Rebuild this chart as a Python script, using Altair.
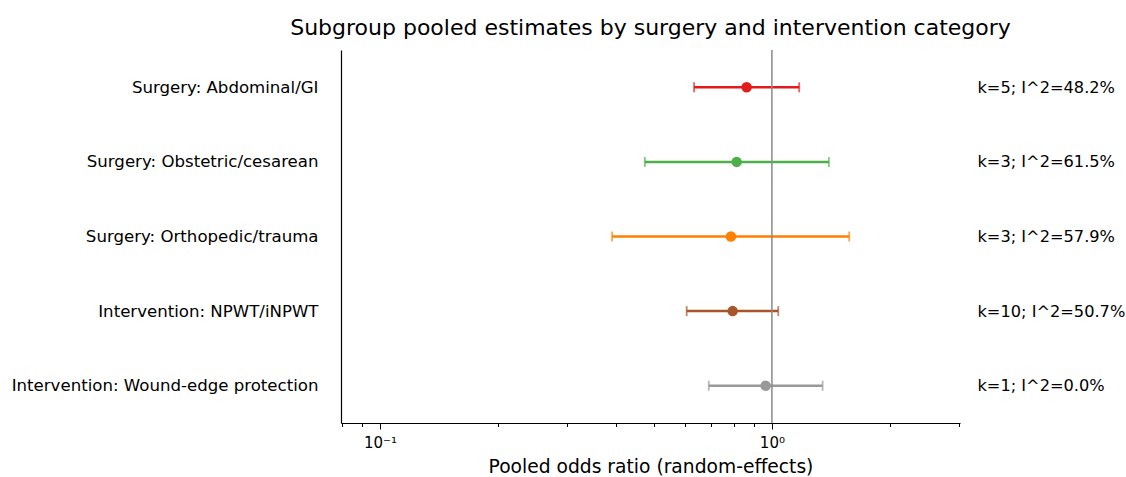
import altair as alt
import pandas as pd

labels = [
    "Surgery: Abdominal/GI",
    "Surgery: Obstetric/cesarean",
    "Surgery: Orthopedic/trauma",
    "Intervention: NPWT/iNPWT",
    "Intervention: Wound-edge protection",
]
estimates = [0.862, 0.813, 0.786, 0.794, 0.964]
lower = [0.633, 0.474, 0.391, 0.606, 0.690]
upper = [1.174, 1.398, 1.575, 1.038, 1.347]
k_values = [5, 3, 3, 10, 1]
i2_values = [48.2, 61.5, 57.9, 50.7, 0.0]
colors = ["#e41a1c", "#4daf4a", "#ff7f00", "#a65628", "#999999"]
reference = [1.0]
tick_values = [0.08, 0.09, 0.1, 0.2, 0.3, 0.4, 0.5, 0.6, 0.7, 0.8, 0.9, 1, 2, 3]

notes = [f"k={k}; I^2={i:.1f}%" for k, i in zip(k_values, i2_values)]
df = pd.DataFrame({
    "label": labels, "est": estimates, "lo": lower, "hi": upper,
    "note": notes, "color": colors,
})
ref_df = pd.DataFrame({"ref": reference})

FONT = "DejaVu Sans"
is_major = "abs(log(datum.value)/LN10 - round(log(datum.value)/LN10)) < 1e-6"

xscale = alt.Scale(type="log", domain=[0.0795, 3.02], nice=False)
xaxis = alt.Axis(
    values=tick_values,
    title="Pooled odds ratio (random-effects)",
    titleFontSize=18.7, titleFontWeight="normal", titleColor="black", titlePadding=7,
    labelExpr="datum.value == 0.1 ? '10⁻¹' : (datum.value == 1 ? '10⁰' : '')",
    labelFontSize=15, labelColor="black", labelPadding=6, labelFlush=False,
    tickSize={"condition": {"test": is_major, "value": 6}, "value": 3.5},
    tickColor="black", tickWidth=1, domainColor="black", domainWidth=1.2,
    grid=False, labelOverlap=False,
)
yscale = alt.Scale(type="point", padding=0.5)
yaxis = alt.Axis(
    title=None, ticks=False, labelFontSize=16.6, labelColor="black", labelPadding=23,
    labelLimit=400, domainColor="black", domainWidth=1.2, grid=False,
)
Y = alt.Y("label:N", sort=labels, scale=yscale, axis=yaxis)
col = alt.Color("color:N", scale=None)

base = alt.Chart(df)
bars = base.mark_rule(strokeWidth=2.5).encode(
    x=alt.X("lo:Q", scale=xscale, axis=xaxis), x2="hi:Q", y=Y, color=col)
caps_lo = base.mark_tick(size=10, thickness=1.8).encode(
    x=alt.X("lo:Q", scale=xscale, axis=xaxis), y=Y, color=col)
caps_hi = base.mark_tick(size=10, thickness=1.8).encode(
    x=alt.X("hi:Q", scale=xscale, axis=xaxis), y=Y, color=col)
points = base.mark_circle(size=110, opacity=1).encode(
    x=alt.X("est:Q", scale=xscale, axis=xaxis), y=Y, color=col)
ref_rule = alt.Chart(ref_df).mark_rule(color="#8a8a8a", strokeWidth=1.5).encode(
    x=alt.X("ref:Q", scale=xscale, axis=xaxis))

left = alt.layer(bars, caps_lo, caps_hi, ref_rule, points)

notes_layer = base.mark_point(opacity=0).encode(
    x=alt.X("est:Q", scale=xscale, axis=xaxis),
    y=alt.Y("note:N", sort=notes, scale=yscale,
            axis=alt.Axis(orient="right", title=None, ticks=False, domain=False,
                          labelFontSize=16.2, labelColor="black", labelPadding=17,
                          labelAlign="left", labelLimit=300, grid=False)),
)

chart = alt.layer(left, notes_layer).resolve_scale(y="independent").resolve_axis(
    y="independent"
).properties(
    width=619, height=373,
    title=alt.TitleParams(
        "Subgroup pooled estimates by surgery and intervention category",
        fontSize=22, fontWeight="normal", color="black", anchor="middle", offset=9,
    ),
    autosize=alt.AutoSizeParams(type="none"),
    padding={"left": 341, "top": 50, "right": 166, "bottom": 54},
).configure(font=FONT).configure_view(stroke=None)

chart.save("out.html", embed_options={"renderer": "svg", "actions": False})
